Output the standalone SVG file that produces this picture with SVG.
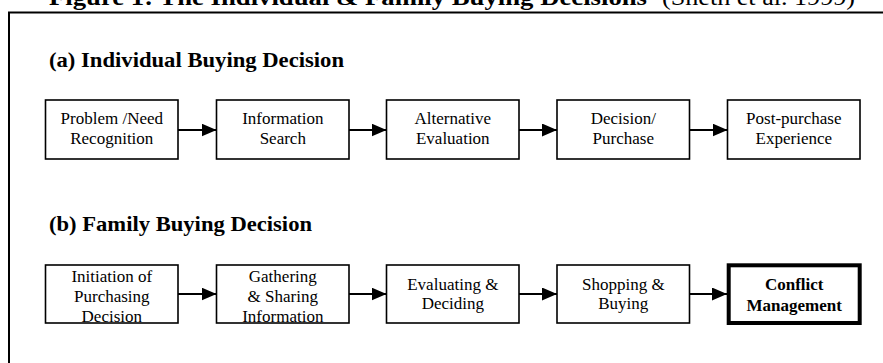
<svg xmlns="http://www.w3.org/2000/svg" width="883" height="363" viewBox="0 0 883 363">
<style>
text{font-family:"Liberation Serif","Times New Roman",serif;fill:#000}
.t{font-size:17px;text-anchor:middle}
.b{font-weight:bold}
.h{font-size:21px;font-weight:bold}
.box{fill:#fff;stroke:#000;stroke-width:1.6}
.bold{fill:#fff;stroke:#000;stroke-width:4}
.con line{stroke:#000;stroke-width:2;marker-end:url(#ah)}
</style>
<defs>
<marker id="ah" markerUnits="userSpaceOnUse" markerWidth="15" markerHeight="13" refX="15" refY="6.5" orient="auto">
<path d="M0,0 L15,6.5 L0,13 Z" fill="#000"/>
</marker>
</defs>
<rect width="883" height="363" fill="#fff"/>
<text y="4.5" style="font-size:24px"><tspan x="49" font-weight="bold" textLength="598" lengthAdjust="spacingAndGlyphs">Figure 1: The Individual &amp; Family Buying Decisions</tspan><tspan x="662" textLength="193" lengthAdjust="spacingAndGlyphs">(Sheth et al. 1999)</tspan></text>
<path d="M9,364 V12.5 H884" fill="none" stroke="#000" stroke-width="2"/>
<text class="h" x="49" y="66.5" textLength="295" lengthAdjust="spacingAndGlyphs">(a) Individual Buying Decision</text>
<text class="h" x="49" y="230.5" textLength="263" lengthAdjust="spacingAndGlyphs">(b) Family Buying Decision</text>
<g class="con">
<line x1="178" y1="130" x2="216.5" y2="130"/>
<line x1="349" y1="130" x2="386.5" y2="130"/>
<line x1="519" y1="130" x2="557" y2="130"/>
<line x1="689.5" y1="130" x2="727.5" y2="130"/>
<line x1="178" y1="294" x2="216.5" y2="294"/>
<line x1="349" y1="294" x2="386.5" y2="294"/>
<line x1="519" y1="294" x2="557" y2="294"/>
<line x1="689.5" y1="294" x2="727" y2="294"/>
</g>
<g id="a1"><rect class="box" x="45.5" y="100" width="132.5" height="59"/><text class="t" x="111.8" y="124.3">Problem /Need</text><text class="t" x="111.8" y="144">Recognition</text></g>
<g id="a2"><rect class="box" x="216.5" y="100" width="132.5" height="59"/><text class="t" x="282.8" y="124.3">Information</text><text class="t" x="282.8" y="144">Search</text></g>
<g id="a3"><rect class="box" x="386.5" y="100" width="132.5" height="59"/><text class="t" x="452.8" y="124.3">Alternative</text><text class="t" x="452.8" y="144">Evaluation</text></g>
<g id="a4"><rect class="box" x="557" y="100" width="132.5" height="59"/><text class="t" x="623.3" y="124.3">Decision/</text><text class="t" x="623.3" y="144">Purchase</text></g>
<g id="a5"><rect class="box" x="727.5" y="100" width="132.5" height="59"/><text class="t" x="793.8" y="124.3">Post-purchase</text><text class="t" x="793.8" y="144">Experience</text></g>
<g id="b1"><rect class="box" x="45.5" y="265" width="132.5" height="58"/><text class="t" x="111.8" y="282.3">Initiation of</text><text class="t" x="111.8" y="302">Purchasing</text><text class="t" x="111.8" y="321.7">Decision</text></g>
<g id="b2"><rect class="box" x="216.5" y="265" width="132.5" height="58"/><text class="t" x="282.8" y="282.3">Gathering</text><text class="t" x="282.8" y="302">&amp; Sharing</text><text class="t" x="282.8" y="321.7">Information</text></g>
<g id="b3"><rect class="box" x="386.5" y="265" width="132.5" height="58"/><text class="t" x="452.8" y="289.5">Evaluating &amp;</text><text class="t" x="452.8" y="309.3">Deciding</text></g>
<g id="b4"><rect class="box" x="557" y="265" width="132.5" height="58"/><text class="t" x="623.3" y="289.5">Shopping &amp;</text><text class="t" x="623.3" y="309.3">Buying</text></g>
<g id="b5"><rect class="bold" x="728.7" y="265.3" width="131" height="57.7"/><text class="t b" x="794.2" y="290">Conflict</text><text class="t b" x="794.2" y="310.5">Management</text></g>
</svg>
